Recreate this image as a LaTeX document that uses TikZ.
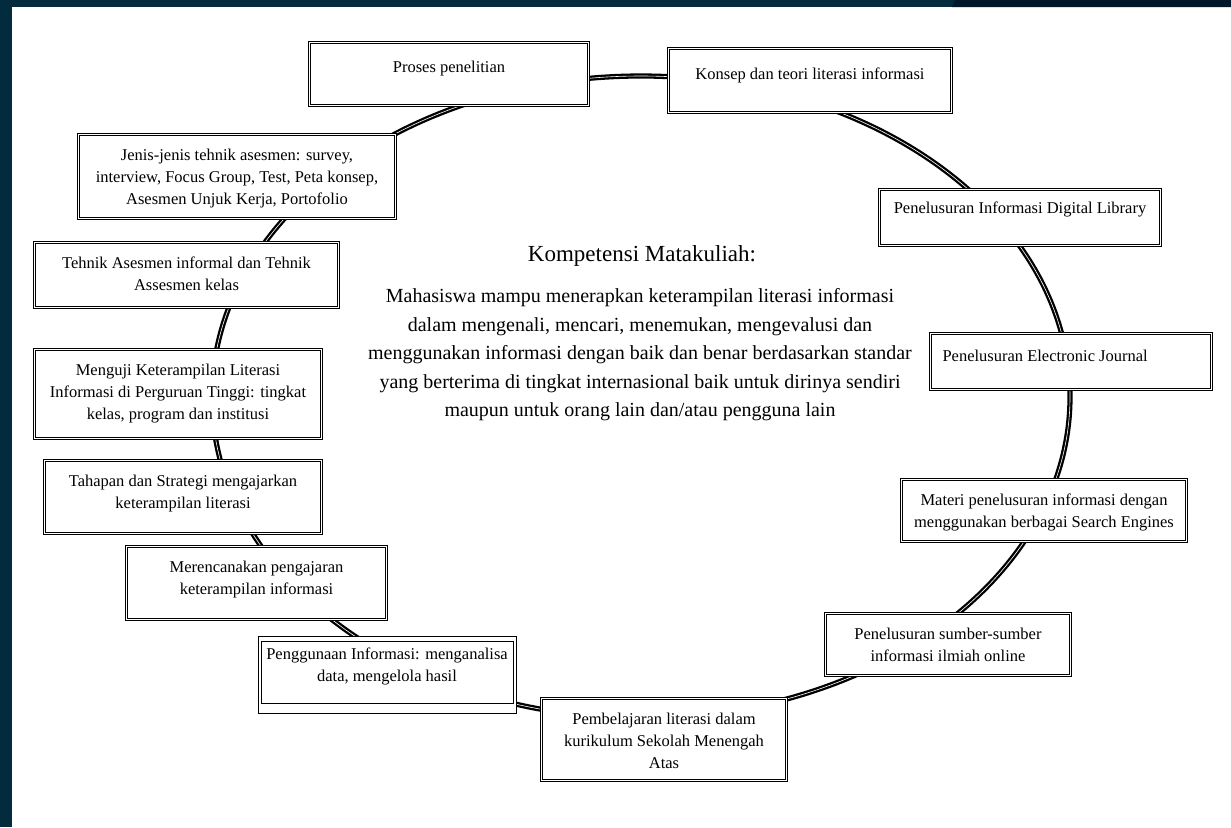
\documentclass[tikz,border=0pt]{standalone}
\usepackage{fontspec}
\setmainfont{Liberation Serif}
\definecolor{navy}{HTML}{022B3E}
\definecolor{navydark}{HTML}{01172A}
\tikzset{
  stage/.style={draw, double, double distance=1.2pt, line width=0.8pt, fill=white, inner sep=0pt, font=\fontsize{16.5}{22}\selectfont},
  stageplain/.style={draw, line width=0.9pt, fill=white, inner sep=0pt, font=\fontsize{16.5}{22}\selectfont},
  ring/.style={line width=2.3pt, double=white, double distance=0.6pt},
}
\newcommand{\stagetext}[4][14.5pt]{\parbox[c][#3][t]{#2}{\vspace*{#1}\centering #4\par}}

\begin{document}
\begin{tikzpicture}[x=1pt,y=-1pt]
    \useasboundingbox (0,0) rectangle (1231,827);
    \fill[white] (0,0) rectangle (1231,827);
    \fill[navy] (0,0) rectangle (1231,7);
    \fill[navydark] (955,0) -- (1231,0) -- (1231,7) -- (952,7) -- cycle;
    \fill[navy] (0,0) rectangle (12,827);

    \coordinate (ringc) at (641,397);
    \draw[ring] (ringc) ellipse [x radius=429, y radius=321];

    \node[stage] (proses) at (449,74) {\stagetext[19pt]{279pt}{63pt}{Proses penelitian}};
    \node[stage] (konsep) at (810,80.5) {\stagetext[19pt]{283pt}{64pt}{Konsep dan teori literasi informasi}};
    \node[stage] (digilib) at (1020,217.5) {\stagetext[12pt]{281pt}{56pt}{Penelusuran Informasi Digital Library}};
    \node[stage] (ejournal) at (1071,361.5) {\stagetext[17pt]{281pt}{56pt}{\raggedright\hspace*{12pt}Penelusuran Electronic Journal}};
    \node[stage] (materi) at (1044,510.5) {\stagetext{285pt}{62pt}{Materi penelusuran informasi dengan\\ menggunakan berbagai Search Engines}};
    \node[stage] (sumber) at (948,644.5) {\stagetext{245pt}{62pt}{Penelusuran sumber-sumber\\ informasi ilmiah online}};
    \node[stage] (sma) at (664,739.5) {\stagetext{245pt}{82pt}{Pembelajaran literasi dalam\\ kurikulum Sekolah Menengah\\ Atas}};
    \node[stageplain] (guna) at (387,674.5) {\stagetext[12pt]{258pt}{77pt}{Penggunaan Informasi: menganalisa\\ data, mengelola hasil}};
    \draw[line width=0.9pt] ([shift={(4,6)}]guna.north west) rectangle ([shift={(-3,-10)}]guna.south east);
    \node[stage] (rencana) at (256.5,583) {\stagetext{260pt}{73pt}{Merencanakan pengajaran\\ keterampilan informasi}};
    \node[stage] (tahapan) at (183,497) {\stagetext{277pt}{73pt}{Tahapan dan Strategi mengajarkan\\ keterampilan literasi}};
    \node[stage] (menguji) at (178,394) {\stagetext{287pt}{89pt}{Menguji Keterampilan Literasi\\ Informasi di Perguruan Tinggi: tingkat\\ kelas, program dan institusi}};
    \node[stage] (tehnik) at (186.5,275) {\stagetext{304pt}{65pt}{Tehnik Asesmen informal dan Tehnik\\ Assesmen kelas}};
    \node[stage] (jenis) at (237,176.5) {\stagetext{317pt}{84pt}{Jenis-jenis tehnik asesmen: survey,\\ interview, Focus Group, Test, Peta konsep,\\ Asesmen Unjuk Kerja, Portofolio}};

    \node[font=\fontsize{23}{28}\selectfont] (judul) at (642,256) {Kompetensi Matakuliah:};
    \node[font=\fontsize{20}{28.5}\selectfont, align=center] (kompetensi) at (640,355) {Mahasiswa mampu menerapkan keterampilan literasi informasi\\ dalam mengenali, mencari, menemukan, mengevalusi dan\\ menggunakan informasi dengan baik dan benar berdasarkan standar\\ yang berterima di tingkat internasional baik untuk dirinya sendiri\\ maupun untuk orang lain dan/atau pengguna lain};
\end{tikzpicture}
\end{document}
